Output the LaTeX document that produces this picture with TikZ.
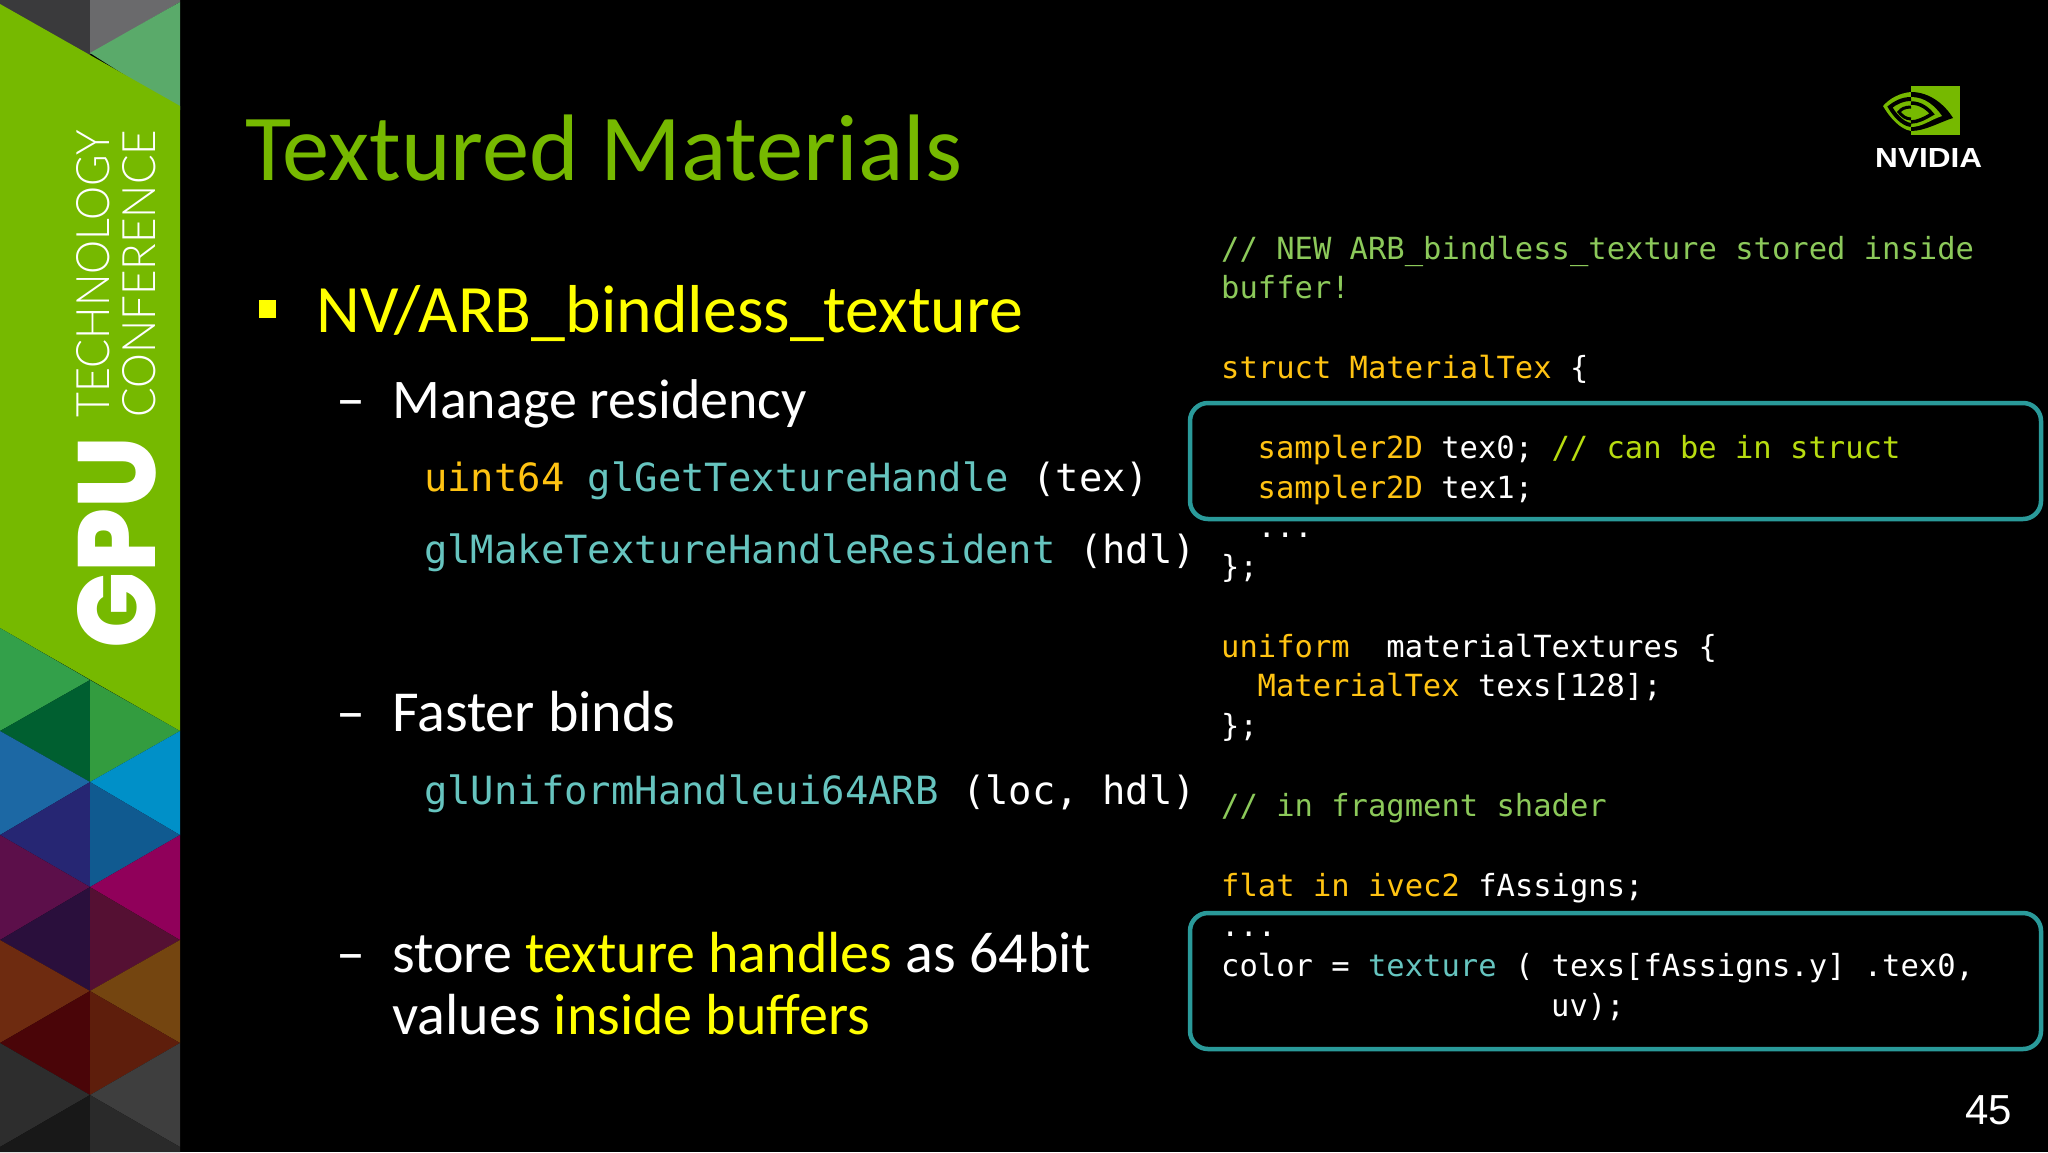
\documentclass[tikz,border=0pt]{standalone}
\usepackage{fontspec}
\usepackage{graphicx}
\setmainfont{Carlito}
\newfontfamily\codefont{DejaVu Sans Mono}
\newfontfamily\numfont{Liberation Sans}
\newfontfamily\thinfont{Lato Light}
\newfontfamily\heavyfont{Poppins}[UprightFont=* ExtraBold]
\definecolor{nvgreen}{HTML}{76B900}
\definecolor{bulletyellow}{HTML}{FFFF00}
\definecolor{kworange}{HTML}{FFC312}
\definecolor{fnteal}{HTML}{66C4BF}
\definecolor{cmtgreen}{HTML}{8CC95A}
\definecolor{cmtlime}{HTML}{B8DC10}
\definecolor{boxteal}{HTML}{2A9A9A}
\newcommand{\tri}[2]{\definecolor{tmpc}{HTML}{#1}\fill[tmpc] #2 -- cycle;}
\newcommand{\kw}[1]{\textcolor{kworange}{#1}}
\newcommand{\fn}[1]{\textcolor{fnteal}{#1}}
\newcommand{\hl}[1]{\textcolor{bulletyellow}{#1}}
\tikzset{
  sizedtext/.style={inner sep=0pt, anchor=base west, text=white},
  titletext/.style={sizedtext, text=nvgreen, font=\fontsize{94.5}{94.5}\selectfont},
  headtext/.style={sizedtext, text=bulletyellow, font=\fontsize{67.8}{67.8}\selectfont},
  subtext/.style={sizedtext, font=\fontsize{58}{58}\selectfont},
  apitext/.style={sizedtext, font=\codefont\fontsize{38.85}{38.85}\selectfont},
  codetext/.style={sizedtext, font=\codefont\fontsize{30.5}{30.5}\selectfont},
  sidetext/.style={inner sep=0pt, anchor=base west, rotate=90, text=white},
  hlbox/.style={draw=boxteal, line width=4.5pt, rounded corners=18pt}
}
\begin{document}
\begin{tikzpicture}[x=1pt, y=-1pt]
\useasboundingbox (0,0) rectangle (2048,1152);
\fill[black] (0,0) rectangle (2048,1152);

% side band
\tri{3A3A3C}{(0,0) -- (90,0) -- (90,60) -- (0,10)}
\tri{6A6A6C}{(90,0) -- (180,0) -- (180,2) -- (90,54)}
\tri{5AAA6A}{(90,53) -- (180,2) -- (180,110)}
\fill[nvgreen] (0,4) -- (180,106) -- (180,731) -- (0,628) -- cycle;
\tri{33A04A}{(0,628) -- (90,680) -- (0,731)}
\tri{005F30}{(90,680) -- (90,782) -- (0,731)}
\tri{339C3F}{(90,680) -- (180,731) -- (90,782)}
\tri{1C68A4}{(0,731) -- (90,782) -- (0,835)}
\tri{0090C8}{(90,782) -- (180,731) -- (180,835)}
\tri{262673}{(90,782) -- (90,887) -- (0,835)}
\tri{105A90}{(90,782) -- (180,835) -- (90,887)}
\tri{5C0F4A}{(0,835) -- (90,887) -- (0,940)}
\tri{90005A}{(90,887) -- (180,835) -- (180,940)}
\tri{2A0F3C}{(90,887) -- (90,991) -- (0,940)}
\tri{551033}{(90,887) -- (180,940) -- (90,991)}
\tri{6E2B10}{(0,940) -- (90,991) -- (0,1043)}
\tri{744510}{(90,991) -- (180,940) -- (180,1043)}
\tri{4A0508}{(90,991) -- (90,1095) -- (0,1043)}
\tri{5E1E0C}{(90,991) -- (180,1043) -- (90,1095)}
\tri{2D2D2D}{(0,1043) -- (90,1095) -- (0,1147)}
\tri{3E3E3E}{(90,1095) -- (180,1043) -- (180,1147)}
\tri{181818}{(0,1147) -- (90,1095) -- (90,1152) -- (0,1152)}
\tri{2A2A2A}{(90,1095) -- (180,1147) -- (180,1152) -- (90,1152)}
\node[sidetext] (bandtech) at (109,418) {\resizebox{288pt}{33pt}{\thinfont TECHNOLOGY}};
\node[sidetext] (bandconf) at (155,418) {\resizebox{288pt}{33pt}{\thinfont CONFERENCE}};
\node[sidetext] (bandgpu) at (155,649) {\resizebox{212pt}{78pt}{\heavyfont GPU}};

% logo
\fill[nvgreen] (1911,86) rectangle (1960,135);
\fill[nvgreen] (1911,92) .. controls (1900,93) and (1890,98) .. (1883,106) .. controls (1890,118) and (1900,129) .. (1911,131) -- cycle;
\fill[black] (1911,92) .. controls (1930,92) and (1945,105) .. (1953,118) .. controls (1940,122) and (1925,131) .. (1911,131) -- cycle;
\fill[nvgreen] (1911,97) .. controls (1925,97) and (1935,106) .. (1942,116) .. controls (1930,120) and (1922,127) .. (1911,127) -- cycle;
\draw[black, line width=3.5pt] (1911,103) .. controls (1921,103) and (1928,109) .. (1932,114) .. controls (1925,118) and (1918,122) .. (1911,122);
\draw[black, line width=4pt] (1911,99) .. controls (1902,99) and (1895,103) .. (1890,107) .. controls (1894,114) and (1902,124) .. (1911,125);
\draw[black, line width=3pt] (1911,107) .. controls (1905,107) and (1901,109) .. (1899,112) .. controls (1902,116) and (1906,119) .. (1911,119);
\node[sidetext, rotate=-90] (logotext) at (1875,167) {\resizebox{107pt}{19pt}{\numfont\bfseries NVIDIA}};

% left column
\node[titletext] (title) at (245,180) {Textured Materials};
\fill[bulletyellow] (259,300) rectangle (276,318);
\node[headtext] (head) at (316,332) {NV/ARB\_bindless\_texture};
\node[subtext] (dasha) at (336,418) {--};
\node[subtext, font=\fontsize{56}{56}\selectfont] (manage) at (392,418) {Manage residency};
\node[apitext] (getline) at (424,491) {\kw{uint64} \fn{glGetTextureHandle} (tex)};
\node[apitext] (makeline) at (424,563) {\fn{glMakeTextureHandleResident} (hdl)};
\node[subtext] (dashb) at (336,731) {--};
\node[subtext] (faster) at (392,731) {Faster binds};
\node[apitext] (uniline) at (424,804) {\fn{glUniformHandleui64ARB} (loc, hdl)};
\node[subtext] (dashc) at (336,972) {--};
\node[subtext] (storea) at (392,972) {store \hl{texture handles} as 64bit};
\node[subtext] (storeb) at (392,1034) {values \hl{inside buffers}};

% code column
\node[codetext, text=cmtgreen] (lna) at (1221,259) {// NEW ARB\_bindless\_texture stored inside};
\node[codetext, text=cmtgreen] (lnb) at (1221,298.5) {buffer!};
\node[codetext] (lnc) at (1221,378.2) {\kw{struct MaterialTex} \{};
\draw[hlbox] (1190,403) rectangle (2041,519);
\node[codetext] (lnd) at (1257.5,458.5) {\kw{sampler2D} tex0; \textcolor{cmtlime}{// can be in struct}};
\node[codetext] (lne) at (1257.5,498.3) {\kw{sampler2D} tex1;};
\node[codetext] (lnf) at (1257.5,537.5) {...};
\node[codetext] (lng) at (1221,577.4) {\};};
\node[codetext] (lnh) at (1221,657.1) {\kw{uniform}\ \ materialTextures \{};
\node[codetext] (lni) at (1257.5,696.9) {\kw{MaterialTex} texs[128];};
\node[codetext] (lnj) at (1221,736.8) {\};};
\node[codetext, text=cmtgreen] (lnk) at (1221,816.5) {// in fragment shader};
\node[codetext] (lnl) at (1221,896.2) {\kw{flat in ivec2} fAssigns;};
\draw[hlbox] (1190,913) rectangle (2041,1049);
\node[codetext] (lnm) at (1221,936) {...};
\node[codetext] (lnn) at (1221,976.5) {color = \fn{texture} ( texs[fAssigns.y] .tex0,};
\node[codetext] (lno) at (1551,1016.3) {uv);};

% page number
\node[sizedtext, font=\numfont\fontsize{42}{42}\selectfont] (pagenum) at (1965,1124) {45};
\end{tikzpicture}
\end{document}
